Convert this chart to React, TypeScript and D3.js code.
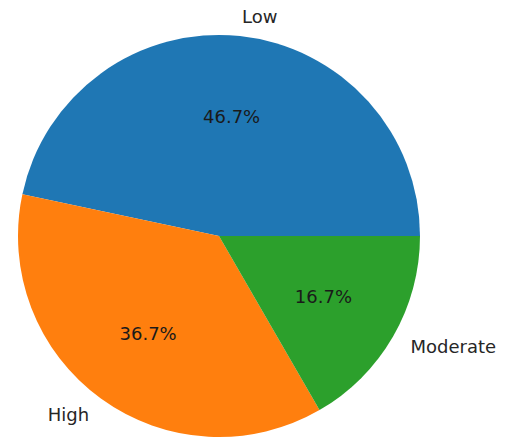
import React from "react";
import * as d3 from "d3";

const categories = ["Low", "High", "Moderate"];
const counts = [14, 11, 5];
const colors = ["#1f77b4", "#ff7f0e", "#2ca02c"];

export default function App() {
  const width = 508;
  const height = 439;
  const cx = 219;
  const cy = 236;
  const r = 201;
  const total = d3.sum(counts);

  // matplotlib style: start at east, counter-clockwise
  const pie = d3
    .pie<number>()
    .sort(null)
    .startAngle(Math.PI / 2)
    .endAngle(Math.PI / 2 - 2 * Math.PI);
  const arcs = pie(counts);
  const arc = d3.arc<d3.PieArcDatum<number>>().innerRadius(0).outerRadius(r);

  const font = "DejaVu Sans, sans-serif";
  const fs = 18;

  return (
    <svg
      width={width}
      height={height}
      style={{ position: "absolute", left: 0, top: 0, background: "#fff" }}
    >
      <g transform={`translate(${cx},${cy})`}>
        {arcs.map((a, i) => (
          <path key={i} d={arc(a) || ""} fill={colors[i]} />
        ))}
        {arcs.map((a, i) => {
          const mid = (a.startAngle + a.endAngle) / 2; // d3 angle: 0 at top, clockwise
          const sx = Math.sin(mid);
          const sy = -Math.cos(mid);
          const lx = sx * r * 1.1;
          const ly = sy * r * 1.1;
          const px = sx * r * 0.6;
          const py = sy * r * 0.6;
          const pct = ((counts[i] / total) * 100).toFixed(1) + "%";
          return (
            <g key={"t" + i}>
              <text
                x={lx}
                y={ly}
                textAnchor={sx > 0 ? "start" : "end"}
                dominantBaseline="central"
                fontFamily={font}
                fontSize={fs}
                fill="#262626"
              >
                {categories[i]}
              </text>
              <text
                x={px}
                y={py}
                textAnchor="middle"
                dominantBaseline="central"
                fontFamily={font}
                fontSize={fs}
                fill="#1a1a1a"
              >
                {pct}
              </text>
            </g>
          );
        })}
      </g>
    </svg>
  );
}
